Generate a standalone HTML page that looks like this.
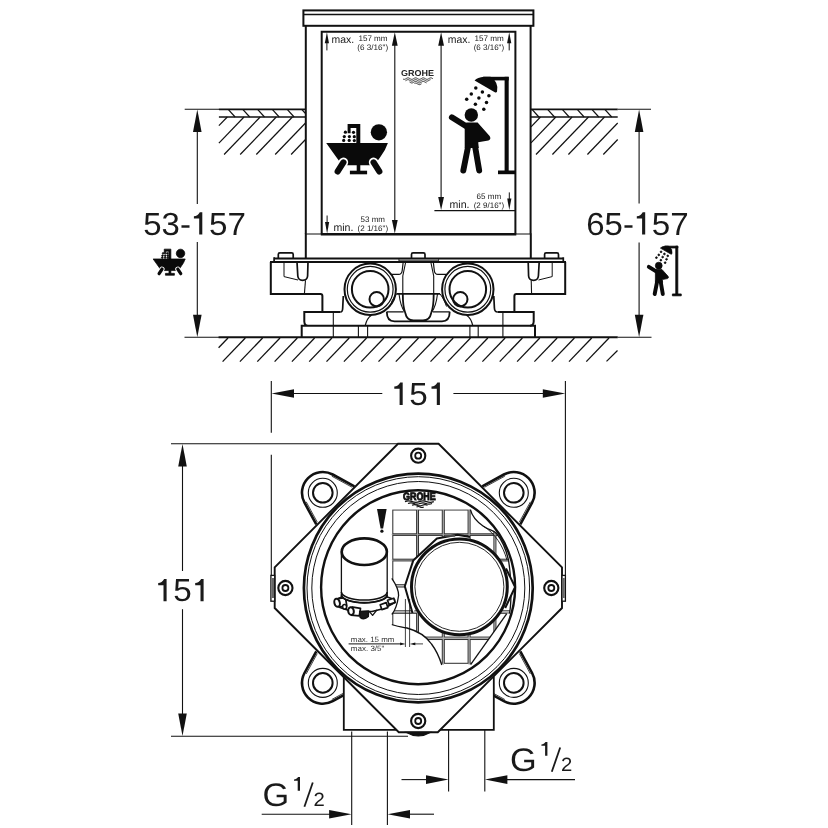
<!DOCTYPE html>
<html><head><meta charset="utf-8"><title>Dimension drawing</title>
<style>
html,body{margin:0;padding:0;background:#fff;}
body{width:828px;height:828px;overflow:hidden;font-family:"Liberation Sans",sans-serif;}
svg{display:block;filter:grayscale(1);}
svg text{font-family:"Liberation Sans",sans-serif;text-rendering:geometricPrecision;}
</style></head><body>
<svg width="828" height="828" viewBox="0 0 828 828" stroke="#111" fill="none" stroke-linecap="butt" stroke-linejoin="miter">
<rect x="0" y="0" width="828" height="828" fill="#fff" stroke="none"/>
<g id="top">
<g id="hatchL">
<line x1="184.7" y1="109.3" x2="219.0" y2="109.3" stroke-width="1.1" />
<line x1="218.9" y1="109.3" x2="306.0" y2="109.3" stroke-width="1.7" />
<line x1="218.9" y1="117.0" x2="306.0" y2="117.0" stroke-width="1.7" />
<line x1="228.2" y1="109.3" x2="235.1" y2="117.0" stroke-width="1.2" />
<line x1="242.8" y1="109.3" x2="249.7" y2="117.0" stroke-width="1.2" />
<line x1="257.6" y1="109.3" x2="264.5" y2="117.0" stroke-width="1.2" />
<line x1="272.3" y1="109.3" x2="279.2" y2="117.0" stroke-width="1.2" />
<line x1="287.2" y1="109.3" x2="294.1" y2="117.0" stroke-width="1.2" />
<line x1="301.7" y1="109.3" x2="305.5" y2="113.5" stroke-width="1.2" />
<line x1="227.3" y1="117.0" x2="218.9" y2="125.7" stroke-width="1.2" />
<line x1="244.0" y1="117.0" x2="218.9" y2="143.1" stroke-width="1.2" />
<line x1="260.2" y1="117.0" x2="224.1" y2="154.5" stroke-width="1.2" />
<line x1="276.3" y1="117.0" x2="240.2" y2="154.5" stroke-width="1.2" />
<line x1="292.4" y1="117.0" x2="256.3" y2="154.5" stroke-width="1.2" />
<line x1="305.5" y1="123.0" x2="275.2" y2="154.5" stroke-width="1.2" />
<line x1="305.5" y1="139.5" x2="291.1" y2="154.5" stroke-width="1.2" />
</g>
<g id="hatchR">
<line x1="617.7" y1="109.3" x2="651.0" y2="109.3" stroke-width="1.1" />
<line x1="530.5" y1="109.3" x2="617.7" y2="109.3" stroke-width="1.7" />
<line x1="530.5" y1="117.0" x2="617.7" y2="117.0" stroke-width="1.7" />
<line x1="532.0" y1="109.3" x2="538.9" y2="117.0" stroke-width="1.2" />
<line x1="547.6" y1="109.3" x2="554.5" y2="117.0" stroke-width="1.2" />
<line x1="562.3" y1="109.3" x2="569.2" y2="117.0" stroke-width="1.2" />
<line x1="577.2" y1="109.3" x2="584.1" y2="117.0" stroke-width="1.2" />
<line x1="591.9" y1="109.3" x2="598.8" y2="117.0" stroke-width="1.2" />
<line x1="604.8" y1="109.3" x2="611.7" y2="117.0" stroke-width="1.2" />
<line x1="540.5" y1="117.0" x2="531.0" y2="126.9" stroke-width="1.2" />
<line x1="555.8" y1="117.0" x2="531.0" y2="142.8" stroke-width="1.2" />
<line x1="572.1" y1="117.0" x2="536.0" y2="154.5" stroke-width="1.2" />
<line x1="588.5" y1="117.0" x2="552.4" y2="154.5" stroke-width="1.2" />
<line x1="604.5" y1="117.0" x2="568.4" y2="154.5" stroke-width="1.2" />
<line x1="617.7" y1="123.0" x2="587.4" y2="154.5" stroke-width="1.2" />
<line x1="617.7" y1="139.5" x2="603.3" y2="154.5" stroke-width="1.2" />
</g>
<g id="floor">
<line x1="184.5" y1="337.3" x2="219.0" y2="337.3" stroke-width="1.1" />
<line x1="617.5" y1="337.3" x2="651.5" y2="337.3" stroke-width="1.1" />
<line x1="218.6" y1="337.3" x2="617.7" y2="337.3" stroke-width="1.9" />
<line x1="228.0" y1="338.0" x2="218.6" y2="347.8" stroke-width="1.3" />
<line x1="245.3" y1="338.0" x2="222.6" y2="361.6" stroke-width="1.3" />
<line x1="262.6" y1="338.0" x2="239.9" y2="361.6" stroke-width="1.3" />
<line x1="280.0" y1="338.0" x2="257.3" y2="361.6" stroke-width="1.3" />
<line x1="297.3" y1="338.0" x2="274.6" y2="361.6" stroke-width="1.3" />
<line x1="314.6" y1="338.0" x2="291.9" y2="361.6" stroke-width="1.3" />
<line x1="331.9" y1="338.0" x2="309.2" y2="361.6" stroke-width="1.3" />
<line x1="349.2" y1="338.0" x2="326.5" y2="361.6" stroke-width="1.3" />
<line x1="366.6" y1="338.0" x2="343.9" y2="361.6" stroke-width="1.3" />
<line x1="383.9" y1="338.0" x2="361.2" y2="361.6" stroke-width="1.3" />
<line x1="401.2" y1="338.0" x2="378.5" y2="361.6" stroke-width="1.3" />
<line x1="418.5" y1="338.0" x2="395.8" y2="361.6" stroke-width="1.3" />
<line x1="435.8" y1="338.0" x2="413.1" y2="361.6" stroke-width="1.3" />
<line x1="453.2" y1="338.0" x2="430.5" y2="361.6" stroke-width="1.3" />
<line x1="470.5" y1="338.0" x2="447.8" y2="361.6" stroke-width="1.3" />
<line x1="487.8" y1="338.0" x2="465.1" y2="361.6" stroke-width="1.3" />
<line x1="505.1" y1="338.0" x2="482.4" y2="361.6" stroke-width="1.3" />
<line x1="522.4" y1="338.0" x2="499.7" y2="361.6" stroke-width="1.3" />
<line x1="539.8" y1="338.0" x2="517.1" y2="361.6" stroke-width="1.3" />
<line x1="557.1" y1="338.0" x2="534.4" y2="361.6" stroke-width="1.3" />
<line x1="574.4" y1="338.0" x2="551.7" y2="361.6" stroke-width="1.3" />
<line x1="591.7" y1="338.0" x2="569.0" y2="361.6" stroke-width="1.3" />
<line x1="609.0" y1="338.0" x2="586.3" y2="361.6" stroke-width="1.3" />
<line x1="617.5" y1="350.5" x2="606.5" y2="361.4" stroke-width="1.25" />
</g>
<g id="dims-top">
<line x1="197.3" y1="125.0" x2="197.3" y2="204.0" stroke-width="1.1" />
<line x1="197.3" y1="242.0" x2="197.3" y2="322.0" stroke-width="1.1" />
<polygon points="197.3,109.6 193.0,132.1 201.6,132.1" fill="#111" stroke="none"/>
<polygon points="197.3,337.2 193.0,314.7 201.6,314.7" fill="#111" stroke="none"/>
<line x1="639.1" y1="125.0" x2="639.1" y2="203.5" stroke-width="1.1" />
<line x1="639.1" y1="242.5" x2="639.1" y2="322.0" stroke-width="1.1" />
<polygon points="639.1,109.6 634.8,132.1 643.4,132.1" fill="#111" stroke="none"/>
<polygon points="639.1,337.2 634.8,314.7 643.4,314.7" fill="#111" stroke="none"/>
<text x="143.3" y="234.6" font-size="32" text-anchor="start" textLength="47.6" lengthAdjust="spacingAndGlyphs"  fill="#1a1a1a" stroke="none">53-</text>
<path d="M199.20,212.20 L202.30,212.20 L202.30,234.60 L199.20,234.60 L199.20,218.50 L193.90,218.50 L193.90,216.30 C196.50,216.10 198.30,214.80 199.80,212.20 Z" fill="#1a1a1a" stroke="none"/>
<text x="209.1" y="234.6" font-size="32" text-anchor="start" textLength="36.9" lengthAdjust="spacingAndGlyphs"  fill="#1a1a1a" stroke="none">57</text>
<text x="586.3" y="234.6" font-size="32" text-anchor="start" textLength="47.6" lengthAdjust="spacingAndGlyphs"  fill="#1a1a1a" stroke="none">65-</text>
<path d="M642.10,212.20 L645.20,212.20 L645.20,234.60 L642.10,234.60 L642.10,218.50 L636.80,218.50 L636.80,216.30 C639.40,216.10 641.20,214.80 642.70,212.20 Z" fill="#1a1a1a" stroke="none"/>
<text x="651.8" y="234.6" font-size="32" text-anchor="start" textLength="36.9" lengthAdjust="spacingAndGlyphs"  fill="#1a1a1a" stroke="none">57</text>
</g>
<g id="box">
<rect x="303.4" y="10.4" width="230.0" height="15.4" stroke-width="2.0" fill="none" />
<line x1="303.4" y1="14.4" x2="533.4" y2="14.4" stroke-width="1.5" />
<line x1="305.8" y1="25.6" x2="305.8" y2="234.0" stroke-width="2.0" />
<line x1="530.6" y1="25.6" x2="530.6" y2="234.0" stroke-width="2.0" />
<path d="M321.7,234 L321.7,31.7 L515.4,31.7 L515.4,234" stroke-width="2.0" fill="none" />
<line x1="306.0" y1="234.0" x2="321.7" y2="234.0" stroke-width="1.3" stroke="#444"/>
<line x1="515.4" y1="234.0" x2="530.5" y2="234.0" stroke-width="1.3" stroke="#444"/>
<line x1="320.8" y1="234.2" x2="516.3" y2="234.2" stroke-width="2.4" />
<path d="M305.8,233.4 L305.8,258 M530.8,233.4 L530.8,258" stroke-width="2.0" fill="none" />
<line x1="394.8" y1="40.0" x2="394.8" y2="222.0" stroke-width="1.1" />
<polygon points="394.8,32.2 391.9,45.7 397.7,45.7" fill="#111" stroke="none"/>
<polygon points="394.8,233.4 391.9,219.9 397.7,219.9" fill="#111" stroke="none"/>
<line x1="441.1" y1="40.0" x2="441.1" y2="200.0" stroke-width="1.1" />
<polygon points="441.1,32.2 438.2,45.7 444.0,45.7" fill="#111" stroke="none"/>
<polygon points="441.1,210.0 438.2,197.0 444.0,197.0" fill="#111" stroke="none"/>
<line x1="434.4" y1="210.6" x2="515.4" y2="210.6" stroke-width="1.2" />
<line x1="326.9" y1="40.0" x2="326.9" y2="50.4" stroke-width="1.0" />
<polygon points="326.9,32.2 324.8,43.2 329.0,43.2" fill="#111" stroke="none"/>
<line x1="509.2" y1="40.0" x2="509.2" y2="50.4" stroke-width="1.0" />
<polygon points="509.2,32.2 507.1,43.2 511.3,43.2" fill="#111" stroke="none"/>
<line x1="327.1" y1="215.5" x2="327.1" y2="226.0" stroke-width="1.0" />
<polygon points="327.1,233.4 325.0,221.9 329.2,221.9" fill="#111" stroke="none"/>
<line x1="509.3" y1="192.4" x2="509.3" y2="202.0" stroke-width="1.0" />
<polygon points="509.3,210.0 507.2,198.5 511.4,198.5" fill="#111" stroke="none"/>
<text x="331.6" y="43.2" font-size="10.6" text-anchor="start" textLength="22.6" lengthAdjust="spacingAndGlyphs"  fill="#1a1a1a" stroke="none">max.</text>
<text x="358.4" y="41.1" font-size="8" text-anchor="start" textLength="29.2" lengthAdjust="spacingAndGlyphs"  fill="#1a1a1a" stroke="none">157 mm</text>
<text x="357.3" y="49.8" font-size="8" text-anchor="start" textLength="30.8" lengthAdjust="spacingAndGlyphs"  fill="#1a1a1a" stroke="none">(6 3/16&quot;)</text>
<text x="447.8" y="43.2" font-size="10.6" text-anchor="start" textLength="22.6" lengthAdjust="spacingAndGlyphs"  fill="#1a1a1a" stroke="none">max.</text>
<text x="474.4" y="41.1" font-size="8" text-anchor="start" textLength="29.3" lengthAdjust="spacingAndGlyphs"  fill="#1a1a1a" stroke="none">157 mm</text>
<text x="473.7" y="49.8" font-size="8" text-anchor="start" textLength="30.4" lengthAdjust="spacingAndGlyphs"  fill="#1a1a1a" stroke="none">(6 3/16&quot;)</text>
<text x="333.4" y="230.8" font-size="10.6" text-anchor="start" textLength="20.0" lengthAdjust="spacingAndGlyphs"  fill="#1a1a1a" stroke="none">min.</text>
<text x="360.6" y="222.3" font-size="8" text-anchor="start" textLength="24.4" lengthAdjust="spacingAndGlyphs"  fill="#1a1a1a" stroke="none">53 mm</text>
<text x="357.5" y="230.8" font-size="8" text-anchor="start" textLength="30.6" lengthAdjust="spacingAndGlyphs"  fill="#1a1a1a" stroke="none">(2 1/16&quot;)</text>
<text x="449.5" y="207.7" font-size="10.6" text-anchor="start" textLength="20.0" lengthAdjust="spacingAndGlyphs"  fill="#1a1a1a" stroke="none">min.</text>
<text x="476.6" y="199.1" font-size="8" text-anchor="start" textLength="24.6" lengthAdjust="spacingAndGlyphs"  fill="#1a1a1a" stroke="none">65 mm</text>
<text x="473.7" y="207.8" font-size="8" text-anchor="start" textLength="30.4" lengthAdjust="spacingAndGlyphs"  fill="#1a1a1a" stroke="none">(2 9/16&quot;)</text>
</g>
<g id="body">
<line x1="274.0" y1="258.6" x2="563.4" y2="258.6" stroke-width="2.0" />
<line x1="270.0" y1="262.1" x2="566.0" y2="262.1" stroke-width="2.0" />
<line x1="274.1" y1="257.3" x2="274.1" y2="262.5" stroke-width="1.7" />
<line x1="563.3" y1="257.3" x2="563.3" y2="262.5" stroke-width="1.7" />
<line x1="398.9" y1="260.3" x2="438.6" y2="260.3" stroke-width="0.8" />
<line x1="398.9" y1="258.0" x2="398.9" y2="262.0" stroke-width="0.8" />
<line x1="438.6" y1="258.0" x2="438.6" y2="262.0" stroke-width="0.8" />
<path d="M278.3,258 L278.3,254.4 Q278.3,252.9 279.8,252.9 L291.7,252.9 Q293.2,252.9 293.2,254.4 L293.2,258" stroke-width="1.7" fill="none" />
<path d="M544.6,258 L544.6,254.4 Q544.6,252.9 546.1,252.9 L557.0,252.9 Q558.5,252.9 558.5,254.4 L558.5,258" stroke-width="1.7" fill="none" />
<path d="M411.5,258 L411.5,254.4 Q411.5,252.9 413.0,252.9 L423.5,252.9 Q425.0,252.9 425.0,254.4 L425.0,258" stroke-width="1.7" fill="none" />
<path d="M270.8,262 L270.8,293.9 L320.4,293.9 Q322.4,293.9 322.4,296 L322.4,312 M340.5,312 L304.3,312 L304.3,321.5 Q304.5,325.7 308,325.7 M301.7,337 L301.7,325.7 L535,325.7 L535,337" stroke-width="2.0" fill="none" />
<path d="M340.5,312 Q342.6,312 342.7,308 L343.3,296" stroke-width="1.7" fill="none" />
<path d="M565.2,262 L565.2,293.9 L516.4,293.9 Q514.4,293.9 514.4,296 L514.4,312 M497.5,312 L533.7,312 L533.7,321.5 Q533.5,325.7 530,325.7" stroke-width="2.0" fill="none" />
<path d="M497.5,312 Q494.6,312 494.4,308 L493.8,296" stroke-width="1.7" fill="none" />
<path d="M284,262 L284,276.6 L298,280" stroke-width="1.0" fill="none" />
<path d="M297,262 L297.8,276 Q298.3,280.3 302.5,280.3 Q307.3,280.3 307.6,276 L308,262" stroke-width="1.7" fill="none" />
<path d="M305.5,280.3 L304.4,293.9" stroke-width="1.1" fill="none" />
<path d="M552.2,262 L552.2,276.6 L538.5,280" stroke-width="1.0" fill="none" />
<path d="M539.2,262 L538.4,276 Q537.9,280.3 533.7,280.3 Q528.9,280.3 528.6,276 L528.2,262" stroke-width="1.7" fill="none" />
<path d="M531.2,280.3 L531.6,293.9" stroke-width="1.1" fill="none" />
<line x1="333.3" y1="325.7" x2="333.3" y2="337.0" stroke-width="1.1" />
<line x1="358.4" y1="325.7" x2="358.4" y2="337.0" stroke-width="1.1" />
<line x1="367.6" y1="325.7" x2="367.6" y2="337.0" stroke-width="1.1" />
<line x1="469.9" y1="325.7" x2="469.9" y2="337.0" stroke-width="1.1" />
<line x1="478.2" y1="325.7" x2="478.2" y2="337.0" stroke-width="1.1" />
<line x1="502.9" y1="325.7" x2="502.9" y2="337.0" stroke-width="1.1" />
<line x1="333.3" y1="312.0" x2="333.3" y2="325.7" stroke-width="1.1" />
<line x1="502.9" y1="312.0" x2="502.9" y2="325.7" stroke-width="1.1" />
<circle cx="370.2" cy="289.3" r="25.7" stroke-width="2.0" fill="#fff" />
<circle cx="370.2" cy="289.3" r="22.9" stroke-width="1.2" fill="none" />
<circle cx="370.2" cy="289.3" r="18.3" stroke-width="2.0" fill="none" />
<circle cx="376.7" cy="299.2" r="7.2" stroke-width="2.0" fill="none" />
<circle cx="467.8" cy="289.3" r="25.7" stroke-width="2.0" fill="#fff" />
<circle cx="467.8" cy="289.3" r="22.9" stroke-width="1.2" fill="none" />
<circle cx="467.8" cy="289.3" r="18.3" stroke-width="2.0" fill="none" />
<circle cx="460.3" cy="299.2" r="7.2" stroke-width="2.0" fill="none" />
<path d="M371.5,315.3 Q367,318 365.2,325.7" stroke-width="1.2" fill="none" />
<path d="M466.5,315.3 Q471,318 472.8,325.7" stroke-width="1.2" fill="none" />
<path d="M405.7,262 L402.8,276 L402.8,293.7" stroke-width="1.1" fill="none" />
<path d="M430.8,262 L433.7,276 L433.7,293.7" stroke-width="1.1" fill="none" />
<path d="M390.5,274.4 L398.5,274.4 Q401.8,274.4 402.2,270.5 L403.2,262" stroke-width="1.2" fill="none" />
<path d="M446.0,274.4 L438.0,274.4 Q434.7,274.4 434.3,270.5 L433.3,262" stroke-width="1.2" fill="none" />
<line x1="396.5" y1="293.8" x2="440.0" y2="293.8" stroke-width="1.8" />
<path d="M402.8,293.8 C402.8,304 403.8,309.5 405.3,313 Q406.8,320.5 413.5,320.5 L423,320.5 Q429.7,320.5 431.2,313 C432.7,309.5 433.7,304 433.7,293.8" stroke-width="1.8" fill="none" />
<path d="M396.5,293.8 Q391.5,300 390,306.5 M440,293.8 Q445,300 446.5,306.5" stroke-width="1.0" fill="none" />
<path d="M386.8,311.8 L403.6,311.8 M432.9,311.8 L449.7,311.8" stroke-width="1.2" fill="none" />
<path d="M386.8,311.8 Q386.8,321.4 394.5,321.4 L442,321.4 Q449.7,321.4 449.7,311.8" stroke-width="1.8" fill="none" />
<path d="M399,294 Q400.5,306 404.5,311.8 M437.5,294 Q436,306 432,311.8" stroke-width="1.1" fill="none" />
</g>
<g fill="#0a0a0a" stroke="none" >
<path d="M326.2,143 L387.9,143 Q385.5,150 381,156 L374.5,165.3 L342.2,165.3 Q334,154 326.2,143 Z"/>
<line x1="343.4" y1="162.4" x2="337.7" y2="171.4" stroke="#fff" stroke-width="9.6" stroke-linecap="round"/>
<line x1="373.6" y1="162.4" x2="379.3" y2="171.4" stroke="#fff" stroke-width="9.6" stroke-linecap="round"/>
<line x1="343.4" y1="162.4" x2="337.7" y2="171.4" stroke="#0a0a0a" stroke-width="6.2" stroke-linecap="round"/>
<line x1="373.6" y1="162.4" x2="379.3" y2="171.4" stroke="#0a0a0a" stroke-width="6.2" stroke-linecap="round"/>
<rect x="356.7" y="165" width="3.6" height="6.5"/>
<rect x="349.9" y="170.7" width="17.2" height="3.6"/>
<circle cx="378.9" cy="132.3" r="8.15"/>
<path d="M347.6,124.1 L360.3,124.1 L360.3,143.2 L356.3,143.2 L356.3,128 L350.6,128 L350.6,133.2 L347.6,133.2 Z"/>
<circle cx="345.4" cy="132.2" r="1.6"/>
<circle cx="353.5" cy="132.3" r="1.6"/>
<circle cx="344.3" cy="136.6" r="1.6"/>
<circle cx="349.4" cy="136.6" r="1.6"/>
<circle cx="354.3" cy="136.7" r="1.6"/>
<circle cx="343.7" cy="140.4" r="1.6"/>
<circle cx="349.2" cy="140.4" r="1.6"/>
<circle cx="354.3" cy="140.6" r="1.6"/>
</g>
<g fill="#0a0a0a" stroke="none" >
<rect x="504.6" y="76.8" width="4.1" height="94.5"/>
<rect x="483" y="76.8" width="25.7" height="3.6"/>
<rect x="498" y="170.5" width="17.4" height="3.7"/>
<path d="M474.6,80.6 Q477.5,77.2 484,76.8 L490.5,76.8 Q499.2,82.5 497,91.8 Q496.3,93 494.8,92.2 Z"/>
<circle cx="475.8" cy="87.9" r="1.75"/>
<circle cx="482.4" cy="92.1" r="1.75"/>
<circle cx="488.9" cy="95.8" r="1.75"/>
<circle cx="471.3" cy="93.9" r="1.75"/>
<circle cx="478.9" cy="98.1" r="1.75"/>
<circle cx="486.5" cy="102.5" r="1.75"/>
<circle cx="466.7" cy="99.3" r="1.75"/>
<circle cx="475.4" cy="104.3" r="1.75"/>
<circle cx="483.8" cy="109.2" r="1.75"/>
<circle cx="471.3" cy="115" r="6.7"/>
<line x1="451.8" y1="117.2" x2="467" y2="126.8" stroke="#0a0a0a" stroke-width="5.8" stroke-linecap="round"/>
<path d="M464.7,124.5 L466.5,122.6 L477.6,122.6 L489.6,136 Q491.6,139.4 488.4,140.4 L478.2,142.3 L478.8,148 L464.7,148 Z"/>
<line x1="468.2" y1="146" x2="463.3" y2="170.6" stroke="#0a0a0a" stroke-width="5.9" stroke-linecap="round"/>
<line x1="475.0" y1="146" x2="479.2" y2="170.6" stroke="#0a0a0a" stroke-width="5.9" stroke-linecap="round"/>
</g>
<g fill="#0a0a0a"  transform="translate(-16.5,184.6) scale(0.52)" stroke="#0a0a0a" stroke-width="1.4" stroke-linejoin="round">
<path d="M326.2,143 L387.9,143 Q385.5,150 381,156 L374.5,165.3 L342.2,165.3 Q334,154 326.2,143 Z"/>
<line x1="343.4" y1="162.4" x2="337.7" y2="171.4" stroke="#fff" stroke-width="9.6" stroke-linecap="round"/>
<line x1="373.6" y1="162.4" x2="379.3" y2="171.4" stroke="#fff" stroke-width="9.6" stroke-linecap="round"/>
<line x1="343.4" y1="162.4" x2="337.7" y2="171.4" stroke="#0a0a0a" stroke-width="6.2" stroke-linecap="round"/>
<line x1="373.6" y1="162.4" x2="379.3" y2="171.4" stroke="#0a0a0a" stroke-width="6.2" stroke-linecap="round"/>
<rect x="356.7" y="165" width="3.6" height="6.5"/>
<rect x="349.9" y="170.7" width="17.2" height="3.6"/>
<circle cx="378.9" cy="132.3" r="8.15"/>
<path d="M347.6,124.1 L360.3,124.1 L360.3,143.2 L356.3,143.2 L356.3,128 L350.6,128 L350.6,133.2 L347.6,133.2 Z"/>
<circle cx="345.4" cy="132.2" r="1.6"/>
<circle cx="353.5" cy="132.3" r="1.6"/>
<circle cx="344.3" cy="136.6" r="1.6"/>
<circle cx="349.4" cy="136.6" r="1.6"/>
<circle cx="354.3" cy="136.7" r="1.6"/>
<circle cx="343.7" cy="140.4" r="1.6"/>
<circle cx="349.2" cy="140.4" r="1.6"/>
<circle cx="354.3" cy="140.6" r="1.6"/>
</g>
<g fill="#0a0a0a"  transform="translate(418.4,207.0) scale(0.51)" stroke="#0a0a0a" stroke-width="1.5" stroke-linejoin="round">
<rect x="504.6" y="76.8" width="4.1" height="94.5"/>
<rect x="483" y="76.8" width="25.7" height="3.6"/>
<rect x="498" y="170.5" width="17.4" height="3.7"/>
<path d="M474.6,80.6 Q477.5,77.2 484,76.8 L490.5,76.8 Q499.2,82.5 497,91.8 Q496.3,93 494.8,92.2 Z"/>
<circle cx="475.8" cy="87.9" r="1.75"/>
<circle cx="482.4" cy="92.1" r="1.75"/>
<circle cx="488.9" cy="95.8" r="1.75"/>
<circle cx="471.3" cy="93.9" r="1.75"/>
<circle cx="478.9" cy="98.1" r="1.75"/>
<circle cx="486.5" cy="102.5" r="1.75"/>
<circle cx="466.7" cy="99.3" r="1.75"/>
<circle cx="475.4" cy="104.3" r="1.75"/>
<circle cx="483.8" cy="109.2" r="1.75"/>
<circle cx="471.3" cy="115" r="6.7"/>
<line x1="451.8" y1="117.2" x2="467" y2="126.8" stroke="#0a0a0a" stroke-width="7.6" stroke-linecap="round"/>
<path d="M464.7,124.5 L466.5,122.6 L477.6,122.6 L489.6,136 Q491.6,139.4 488.4,140.4 L478.2,142.3 L478.8,148 L464.7,148 Z"/>
<line x1="468.2" y1="146" x2="463.3" y2="170.6" stroke="#0a0a0a" stroke-width="7.7" stroke-linecap="round"/>
<line x1="475.0" y1="146" x2="479.2" y2="170.6" stroke="#0a0a0a" stroke-width="7.7" stroke-linecap="round"/>
</g>
<g >
<text x="401.0" y="76.2" font-size="8.6" text-anchor="start" textLength="33.0" lengthAdjust="spacingAndGlyphs" font-weight="bold" fill="#222" stroke="none">GROHE</text>
<polyline points="403.00,79.01 403.50,79.23 404.00,79.34 404.50,79.33 405.00,79.19 405.50,78.96 406.00,78.66 406.50,78.36 407.00,78.09 407.50,77.91 408.00,77.85 408.50,77.91 409.00,78.09 409.50,78.36 410.00,78.66 410.50,78.96 411.00,79.19 411.50,79.33 412.00,79.34 412.50,79.23 413.00,79.01 413.50,78.72 414.00,78.42 414.50,78.14 415.00,77.94 415.50,77.85 416.00,77.89 416.50,78.05 417.00,78.30 417.50,78.60 418.00,78.90 418.50,79.15 419.00,79.31 419.50,79.35 420.00,79.26 420.50,79.06 421.00,78.78 421.50,78.48 422.00,78.19 422.50,77.97 423.00,77.86 423.50,77.87 424.00,78.01 424.50,78.24 425.00,78.54 425.50,78.84 426.00,79.11 426.50,79.29 427.00,79.35 427.50,79.29 428.00,79.11 428.50,78.84 429.00,78.54 429.50,78.24 430.00,78.01 430.50,77.87 431.00,77.86 431.50,77.97 432.00,78.19 432.50,78.48 433.00,78.78" stroke="#222" stroke-width="0.9" fill="none"/>
<polyline points="405.50,80.76 406.00,80.46 406.50,80.16 407.00,79.89 407.50,79.71 408.00,79.65 408.50,79.71 409.00,79.89 409.50,80.16 410.00,80.46 410.50,80.76 411.00,80.99 411.50,81.13 412.00,81.14 412.50,81.03 413.00,80.81 413.50,80.52 414.00,80.22 414.50,79.94 415.00,79.74 415.50,79.65 416.00,79.69 416.50,79.85 417.00,80.10 417.50,80.40 418.00,80.70 418.50,80.95 419.00,81.11 419.50,81.15 420.00,81.06 420.50,80.86 421.00,80.58 421.50,80.28 422.00,79.99 422.50,79.77 423.00,79.66 423.50,79.67 424.00,79.81 424.50,80.04 425.00,80.34 425.50,80.64 426.00,80.91 426.50,81.09 427.00,81.15 427.50,81.09 428.00,80.91 428.50,80.64 429.00,80.34 429.50,80.04 430.00,79.81 430.50,79.67" stroke="#222" stroke-width="0.9" fill="none"/>
<polyline points="409.50,81.96 410.00,82.26 410.50,82.56 411.00,82.79 411.50,82.93 412.00,82.94 412.50,82.83 413.00,82.61 413.50,82.32 414.00,82.02 414.50,81.74 415.00,81.54 415.50,81.45 416.00,81.49 416.50,81.65 417.00,81.90 417.50,82.20 418.00,82.50 418.50,82.75 419.00,82.91 419.50,82.95 420.00,82.86 420.50,82.66 421.00,82.38 421.50,82.08 422.00,81.79 422.50,81.57 423.00,81.46 423.50,81.47 424.00,81.61 424.50,81.84 425.00,82.14 425.50,82.44 426.00,82.71 426.50,82.89" stroke="#222" stroke-width="0.9" fill="none"/>
<polyline points="414.50,83.44 415.00,83.24 415.50,83.15 416.00,83.19 416.50,83.35 417.00,83.60 417.50,83.90 418.00,84.20 418.50,84.45 419.00,84.61 419.50,84.65 420.00,84.56 420.50,84.36 421.00,84.08 421.50,83.78" stroke="#222" stroke-width="0.9" fill="none"/>
</g>
</g>
<g id="bottom">
<g id="dims-bot">
<line x1="271.3" y1="381.0" x2="271.3" y2="432.8" stroke-width="1.1" />
<line x1="271.3" y1="454.8" x2="271.3" y2="575.5" stroke-width="1.1" />
<line x1="565.4" y1="381.0" x2="565.4" y2="575.5" stroke-width="1.1" />
<line x1="293.0" y1="393.5" x2="382.3" y2="393.5" stroke-width="1.1" />
<line x1="453.4" y1="393.5" x2="543.0" y2="393.5" stroke-width="1.1" />
<polygon points="271.5,393.5 294.0,389.2 294.0,397.8" fill="#111" stroke="none"/>
<polygon points="565.3,393.5 542.8,389.2 542.8,397.8" fill="#111" stroke="none"/>
<path d="M399.60,382.50 L402.70,382.50 L402.70,404.90 L399.60,404.90 L399.60,388.80 L394.30,388.80 L394.30,386.60 C396.90,386.40 398.70,385.10 400.20,382.50 Z" fill="#1a1a1a" stroke="none"/>
<text x="409.2" y="404.9" font-size="32" text-anchor="start" textLength="18.5" lengthAdjust="spacingAndGlyphs"  fill="#1a1a1a" stroke="none">5</text>
<path d="M436.80,382.50 L439.90,382.50 L439.90,404.90 L436.80,404.90 L436.80,388.80 L431.50,388.80 L431.50,386.60 C434.10,386.40 435.90,385.10 437.40,382.50 Z" fill="#1a1a1a" stroke="none"/>
<line x1="171.0" y1="443.8" x2="398.0" y2="443.8" stroke-width="1.1" />
<line x1="171.0" y1="736.2" x2="408.0" y2="736.2" stroke-width="1.1" />
<line x1="182.5" y1="459.0" x2="182.5" y2="571.0" stroke-width="1.1" />
<line x1="182.5" y1="609.2" x2="182.5" y2="721.0" stroke-width="1.1" />
<polygon points="182.5,444.0 178.2,466.5 186.8,466.5" fill="#111" stroke="none"/>
<polygon points="182.5,736.0 178.2,713.5 186.8,713.5" fill="#111" stroke="none"/>
<path d="M163.50,578.90 L166.60,578.90 L166.60,601.30 L163.50,601.30 L163.50,585.20 L158.20,585.20 L158.20,583.00 C160.80,582.80 162.60,581.50 164.10,578.90 Z" fill="#1a1a1a" stroke="none"/>
<text x="173.3" y="601.3" font-size="32" text-anchor="start" textLength="18.5" lengthAdjust="spacingAndGlyphs"  fill="#1a1a1a" stroke="none">5</text>
<path d="M200.50,578.90 L203.60,578.90 L203.60,601.30 L200.50,601.30 L200.50,585.20 L195.20,585.20 L195.20,583.00 C197.80,582.80 199.60,581.50 201.10,578.90 Z" fill="#1a1a1a" stroke="none"/>
<line x1="351.7" y1="731.5" x2="351.7" y2="825.0" stroke-width="1.1" />
<line x1="387.4" y1="731.5" x2="387.4" y2="825.0" stroke-width="1.1" />
<line x1="261.7" y1="814.2" x2="330.0" y2="814.2" stroke-width="1.1" />
<polygon points="351.6,814.2 329.1,809.9 329.1,818.5" fill="#111" stroke="none"/>
<line x1="409.0" y1="814.2" x2="434.0" y2="814.2" stroke-width="1.1" />
<polygon points="387.5,814.2 410.0,809.9 410.0,818.5" fill="#111" stroke="none"/>
<line x1="448.6" y1="730.0" x2="448.6" y2="791.5" stroke-width="1.1" />
<line x1="484.8" y1="730.0" x2="484.8" y2="791.5" stroke-width="1.1" />
<line x1="401.5" y1="779.6" x2="427.0" y2="779.6" stroke-width="1.1" />
<polygon points="448.5,779.6 426.0,775.3 426.0,783.9" fill="#111" stroke="none"/>
<line x1="506.0" y1="779.6" x2="575.0" y2="779.6" stroke-width="1.1" />
<polygon points="484.9,779.6 507.4,775.3 507.4,783.9" fill="#111" stroke="none"/>
<text x="262.5" y="806.3" font-size="32.7" text-anchor="start" textLength="26.7" lengthAdjust="spacingAndGlyphs"  fill="#1a1a1a" stroke="none">G</text>
<path d="M297.70,776.90 L300.00,776.90 L300.00,790.70 L297.70,790.70 L297.70,780.78 L294.00,780.78 L294.00,779.43 C295.60,779.30 297.15,778.50 298.07,776.90 Z" fill="#1a1a1a" stroke="none"/>
<line x1="304.4" y1="806.8" x2="312.8" y2="782.5" stroke-width="1.8" stroke="#1a1a1a"/>
<text x="313.5" y="806.3" font-size="19.3" text-anchor="start" textLength="11.3" lengthAdjust="spacingAndGlyphs"  fill="#1a1a1a" stroke="none">2</text>
<text x="509.9" y="771.3" font-size="32.7" text-anchor="start" textLength="26.7" lengthAdjust="spacingAndGlyphs"  fill="#1a1a1a" stroke="none">G</text>
<path d="M545.10,741.90 L547.40,741.90 L547.40,755.70 L545.10,755.70 L545.10,745.78 L541.40,745.78 L541.40,744.43 C543.00,744.30 544.55,743.50 545.47,741.90 Z" fill="#1a1a1a" stroke="none"/>
<line x1="551.8" y1="771.8" x2="560.2" y2="747.5" stroke-width="1.8" stroke="#1a1a1a"/>
<text x="560.9" y="771.3" font-size="19.3" text-anchor="start" textLength="11.3" lengthAdjust="spacingAndGlyphs"  fill="#1a1a1a" stroke="none">2</text>
</g>
<g id="part">
<path d="M354.4,486.3 L332.7,474.5 A20.8,20.8 0 0 0 304.5,502.7 L316.3,524.4" stroke-width="2.6" fill="#fff" stroke-linejoin="round"/>
<line x1="352.2" y1="487.3" x2="331.8" y2="476.2" stroke-width="0.8" />
<line x1="317.3" y1="522.2" x2="306.2" y2="501.8" stroke-width="0.8" />
<circle cx="322.8" cy="492.8" r="14.5" stroke-width="1.1" fill="none" />
<circle cx="322.8" cy="492.8" r="9.8" stroke-width="2.0" fill="none" />
<path d="M482.2,486.3 L503.9,474.5 A20.8,20.8 0 0 1 532.1,502.7 L520.3,524.4" stroke-width="2.6" fill="#fff" stroke-linejoin="round"/>
<line x1="484.4" y1="487.3" x2="504.8" y2="476.2" stroke-width="0.8" />
<line x1="519.3" y1="522.2" x2="530.4" y2="501.8" stroke-width="0.8" />
<circle cx="513.8" cy="492.8" r="14.5" stroke-width="1.1" fill="none" />
<circle cx="513.8" cy="492.8" r="9.8" stroke-width="2.0" fill="none" />
<path d="M354.4,689.4 L332.7,701.2 A20.8,20.8 0 0 1 304.5,673.0 L316.3,651.3" stroke-width="2.6" fill="#fff" stroke-linejoin="round"/>
<line x1="352.2" y1="688.4" x2="331.8" y2="699.5" stroke-width="0.8" />
<line x1="317.3" y1="653.5" x2="306.2" y2="673.9" stroke-width="0.8" />
<circle cx="322.8" cy="682.9" r="14.5" stroke-width="1.1" fill="none" />
<circle cx="322.8" cy="682.9" r="9.8" stroke-width="2.0" fill="none" />
<path d="M482.2,689.4 L503.9,701.2 A20.8,20.8 0 0 0 532.1,673.0 L520.3,651.3" stroke-width="2.6" fill="#fff" stroke-linejoin="round"/>
<line x1="484.4" y1="688.4" x2="504.8" y2="699.5" stroke-width="0.8" />
<line x1="519.3" y1="653.5" x2="530.4" y2="673.9" stroke-width="0.8" />
<circle cx="513.8" cy="682.9" r="14.5" stroke-width="1.1" fill="none" />
<circle cx="513.8" cy="682.9" r="9.8" stroke-width="2.0" fill="none" />
<path d="M343.8,670 L343.8,729.8 L396,729.8 L396,670 Z" stroke-width="0" fill="#fff" stroke="none"/>
<path d="M493.8,670 L493.8,729.8 L440.5,729.8 L440.5,670 Z" stroke-width="0" fill="#fff" stroke="none"/>
<path d="M343.8,676.5 L343.8,729.8 L398,729.8 M493.8,676.5 L493.8,729.8 L439,729.8" stroke-width="1.8" fill="none" />
<path d="M398,443.8 L438.6,443.8 L562,567.4 L562,608 L437.8,732.2 L398.8,732.2 L274.7,608 L274.7,567.4 Z" stroke-width="1.9" fill="#fff" />
<path d="M406.5,732.4 Q418.3,739.4 430.2,732.4 Z" stroke-width="1.2" fill="#111" />
<rect x="270.9" y="575.4" width="3.8" height="25.8" stroke-width="1.3" fill="#fff" />
<rect x="271.8" y="578.0" width="2.2" height="20.0" stroke-width="0" fill="#666" stroke="none"/>
<rect x="562.0" y="575.4" width="3.4" height="25.8" stroke-width="1.3" fill="#fff" />
<rect x="562.8" y="578.0" width="2.0" height="20.0" stroke-width="0" fill="#666" stroke="none"/>
<circle cx="418.2" cy="455.7" r="7.1" stroke-width="2.1" fill="none" />
<circle cx="418.2" cy="455.7" r="3.0" stroke-width="1.8" fill="none" />
<circle cx="418.2" cy="721.0" r="7.1" stroke-width="2.1" fill="none" />
<circle cx="418.2" cy="721.0" r="3.0" stroke-width="1.8" fill="none" />
<circle cx="285.4" cy="588.0" r="7.1" stroke-width="2.1" fill="none" />
<circle cx="285.4" cy="588.0" r="3.0" stroke-width="1.8" fill="none" />
<circle cx="551.3" cy="588.0" r="7.1" stroke-width="2.1" fill="none" />
<circle cx="551.3" cy="588.0" r="3.0" stroke-width="1.8" fill="none" />
<circle cx="418.3" cy="588.0" r="114.4" stroke-width="2.7" fill="#fff" />
<circle cx="418.3" cy="588.0" r="111.3" stroke-width="1.0" fill="none" />
<circle cx="418.3" cy="588.0" r="106.5" stroke-width="1.0" fill="none" />
<circle cx="418.1" cy="587.2" r="97.0" stroke-width="2.4" fill="none" />
</g>
<g id="inner">
<clipPath id="gclip"><path d="M391.6,509.2 L470.4,509.2 C472,516 476,521 483,526 C489,530 493,530.5 496.2,533 C502,540 506,549 508.5,560 C511,575 512,600 509.5,613.6 L506.8,613.6 L470.6,665 L441.8,665 C439,656 436,650 431.5,644 C426,636 418,631 407,628 C400,626.5 395,626 391.6,624.5 L391.6,614.5 C395.5,610 397.6,603 398.6,595.5 C398.8,590 396,584.5 391.6,578.3 Z"/></clipPath>
<g clip-path="url(#gclip)">
<line x1="417.5" y1="505.0" x2="417.5" y2="670.0" stroke-width="1.0" stroke="#b0b0b0"/>
<line x1="443.3" y1="505.0" x2="443.3" y2="670.0" stroke-width="1.0" stroke="#b0b0b0"/>
<line x1="469.1" y1="505.0" x2="469.1" y2="670.0" stroke-width="1.0" stroke="#b0b0b0"/>
<line x1="494.9" y1="505.0" x2="494.9" y2="670.0" stroke-width="1.0" stroke="#b0b0b0"/>
<line x1="388.0" y1="534.4" x2="520.0" y2="534.4" stroke-width="1.0" stroke="#b0b0b0"/>
<line x1="388.0" y1="559.9" x2="520.0" y2="559.9" stroke-width="1.0" stroke="#b0b0b0"/>
<line x1="388.0" y1="586.0" x2="520.0" y2="586.0" stroke-width="1.0" stroke="#b0b0b0"/>
<line x1="388.0" y1="612.3" x2="520.0" y2="612.3" stroke-width="1.0" stroke="#b0b0b0"/>
<line x1="388.0" y1="638.5" x2="520.0" y2="638.5" stroke-width="1.0" stroke="#b0b0b0"/>
<rect x="392.8" y="510.0" width="23.8" height="23.8" stroke-width="1.05" fill="none" stroke="#333"/>
<rect x="392.8" y="535.4" width="23.8" height="23.8" stroke-width="1.05" fill="none" stroke="#333"/>
<rect x="392.8" y="560.9" width="23.8" height="23.8" stroke-width="1.05" fill="none" stroke="#333"/>
<rect x="392.8" y="587.0" width="23.8" height="23.8" stroke-width="1.05" fill="none" stroke="#333"/>
<rect x="392.8" y="613.3" width="23.8" height="23.8" stroke-width="1.05" fill="none" stroke="#333"/>
<rect x="392.8" y="639.5" width="23.8" height="23.8" stroke-width="1.05" fill="none" stroke="#333"/>
<rect x="418.5" y="510.0" width="23.8" height="23.8" stroke-width="1.05" fill="none" stroke="#333"/>
<rect x="418.5" y="535.4" width="23.8" height="23.8" stroke-width="1.05" fill="none" stroke="#333"/>
<rect x="418.5" y="560.9" width="23.8" height="23.8" stroke-width="1.05" fill="none" stroke="#333"/>
<rect x="418.5" y="587.0" width="23.8" height="23.8" stroke-width="1.05" fill="none" stroke="#333"/>
<rect x="418.5" y="613.3" width="23.8" height="23.8" stroke-width="1.05" fill="none" stroke="#333"/>
<rect x="418.5" y="639.5" width="23.8" height="23.8" stroke-width="1.05" fill="none" stroke="#333"/>
<rect x="444.3" y="510.0" width="23.8" height="23.8" stroke-width="1.05" fill="none" stroke="#333"/>
<rect x="444.3" y="535.4" width="23.8" height="23.8" stroke-width="1.05" fill="none" stroke="#333"/>
<rect x="444.3" y="560.9" width="23.8" height="23.8" stroke-width="1.05" fill="none" stroke="#333"/>
<rect x="444.3" y="587.0" width="23.8" height="23.8" stroke-width="1.05" fill="none" stroke="#333"/>
<rect x="444.3" y="613.3" width="23.8" height="23.8" stroke-width="1.05" fill="none" stroke="#333"/>
<rect x="444.3" y="639.5" width="23.8" height="23.8" stroke-width="1.05" fill="none" stroke="#333"/>
<rect x="470.1" y="510.0" width="23.8" height="23.8" stroke-width="1.05" fill="none" stroke="#333"/>
<rect x="470.1" y="535.4" width="23.8" height="23.8" stroke-width="1.05" fill="none" stroke="#333"/>
<rect x="470.1" y="560.9" width="23.8" height="23.8" stroke-width="1.05" fill="none" stroke="#333"/>
<rect x="470.1" y="587.0" width="23.8" height="23.8" stroke-width="1.05" fill="none" stroke="#333"/>
<rect x="470.1" y="613.3" width="23.8" height="23.8" stroke-width="1.05" fill="none" stroke="#333"/>
<rect x="470.1" y="639.5" width="23.8" height="23.8" stroke-width="1.05" fill="none" stroke="#333"/>
<rect x="495.9" y="510.0" width="23.8" height="23.8" stroke-width="1.05" fill="none" stroke="#333"/>
<rect x="495.9" y="535.4" width="23.8" height="23.8" stroke-width="1.05" fill="none" stroke="#333"/>
<rect x="495.9" y="560.9" width="23.8" height="23.8" stroke-width="1.05" fill="none" stroke="#333"/>
<rect x="495.9" y="587.0" width="23.8" height="23.8" stroke-width="1.05" fill="none" stroke="#333"/>
<rect x="495.9" y="613.3" width="23.8" height="23.8" stroke-width="1.05" fill="none" stroke="#333"/>
<rect x="495.9" y="639.5" width="23.8" height="23.8" stroke-width="1.05" fill="none" stroke="#333"/>
</g>
<path d="M470.4,509.6 C472,516 476,521 483,526 C489,530 493,530.5 496.2,533 C502,540 506,549 508.5,560 C511,575 512,600 509.5,613.6" stroke-width="1.3" fill="none" />
<path d="M506.8,613.6 L470.6,664.6" stroke-width="1.3" fill="none" />
<path d="M441.8,665 C439,656 436,650 431.5,644 C426,636 418,631 407,628 C400,626.5 395,626 391.8,624.5" stroke-width="1.3" fill="none" />
<path d="M391.8,614.5 C395.5,610 397.6,603 398.6,595.5 C398.8,590 396,584.5 391.8,578.3" stroke-width="1.3" fill="none" />
<path d="M483,526 C495,533 503,546 507,560" stroke-width="0.9" fill="none" />
<circle cx="459.4" cy="586.8" r="49.0" stroke-width="0" fill="#fff" stroke="none"/>
<path d="M505.2,608 L515.1,587 L506.0,568.5" stroke-width="2.0" fill="#fff" stroke-linejoin="round"/>
<path d="M412.5,613 L404.8,586.2 L413.2,560.6 L436.9,538.6 L457.5,534.8 L470,537" stroke-width="2.0" fill="#fff" stroke-linejoin="round"/>
<circle cx="459.4" cy="586.8" r="47.9" stroke-width="3.0" fill="#fff" />
<circle cx="459.4" cy="586.8" r="44.5" stroke-width="0.9" fill="none" />
<line x1="444.5" y1="535.9" x2="455.0" y2="535.9" stroke-width="1.6" stroke="#555"/>
<g id="cart" stroke-linejoin="round">
<path d="M336,600 L341.4,597 L387.2,597 L394.5,599.5 L394.8,602.5 L384,608.5 L372,611.5 L352,611.5 L340,607.5 Z" stroke-width="1.6" fill="#fff" />
<path d="M337.5,598.6 L345.5,597.6 L346.8,606 L338.2,607" stroke-width="1.7" fill="#fff" />
<ellipse cx="337.1" cy="602.8" rx="2.7" ry="4.1" transform="rotate(-14 337.1 602.8)" stroke-width="2.0" fill="#fff"/>
<ellipse cx="344.6" cy="606.8" rx="2.0" ry="2.3" transform="rotate(-10 344.6 606.8)" stroke-width="1.6" fill="#fff"/>
<path d="M351.5,606.9 L360.5,608.4 L359.3,615.8 L351,615.1" stroke-width="1.7" fill="#fff" />
<ellipse cx="351.0" cy="611.1" rx="2.8" ry="3.9" transform="rotate(-10 351.0 611.1)" stroke-width="2.0" fill="#fff"/>
<path d="M359.6,611.6 L368.6,611 L368.3,616.6 Q364,620.6 360.2,617.4 Z" stroke-width="1.4" fill="#1a1a1a" />
<path d="M380.2,604.8 L386.2,602.6 L387.8,607.6 L381.8,609.6 Z" stroke-width="1.7" fill="#fff" />
<path d="M387.5,600.2 L393.8,598.2 L395.2,602.4 L389,604.6 Z" stroke-width="1.7" fill="#fff" />
<path d="M369,611.2 L372.6,615.4 L377,609.8" stroke-width="1.3" fill="none" />
<path d="M341.4,551.7 L341.4,594.8 A22.9,8.0 0 0 0 387.2,594.8 L387.2,551.7 Z" stroke-width="1.3" fill="#fff" />
<path d="M341.4,592.0 A22.9,8.0 0 0 0 387.2,592.0" stroke-width="1.6" fill="none" />
<path d="M341.4,594.8 A22.9,8.0 0 0 0 387.2,594.8" stroke-width="1.9" fill="none" />
<ellipse cx="364.3" cy="551.7" rx="22.6" ry="13.3" stroke-width="2.6" fill="#fff"/>
</g>
<path d="M377.0,509 L386.6,509 L383.1,528.6 L380.6,528.6 Z" stroke-width="0" fill="#111" stroke="none"/>
<circle cx="381.9" cy="531.2" r="1.6" stroke-width="0" fill="#111" stroke="none"/>
<text x="350.8" y="641.9" font-size="7.6" text-anchor="start" textLength="43.6" lengthAdjust="spacingAndGlyphs" fill="#333" stroke="none">max. 15 mm</text>
<text x="350.8" y="650.6" font-size="7.6" text-anchor="start" textLength="33.6" lengthAdjust="spacingAndGlyphs" fill="#333" stroke="none">max. 3/5&quot;</text>
<line x1="348.6" y1="643.9" x2="402.0" y2="643.9" stroke-width="1.0" />
<polygon points="405.6,643.9 400.1,642.6 400.1,645.2" fill="#111" stroke="none"/>
<polygon points="409.8,643.9 415.3,642.6 415.3,645.2" fill="#111" stroke="none"/>
<line x1="413.0" y1="643.9" x2="423.0" y2="643.9" stroke-width="0.8" />
<line x1="405.4" y1="599.0" x2="405.4" y2="647.0" stroke-width="0.8" />
<line x1="409.6" y1="599.0" x2="409.6" y2="647.0" stroke-width="0.8" />
<g>
<text x="403.0" y="499.9" font-size="10.8" text-anchor="start" textLength="32.8" lengthAdjust="spacingAndGlyphs" font-weight="bold" fill="#111" stroke="#111" stroke-width="0.9">GROHE</text>
<path d="M405,501.6 q3.6,-1.4 7.2,0 t7.2,0 t7.2,0 t7.2,0" stroke-width="1.3" fill="none" />
<path d="M408,503.5 q3,-1.3 6,0 t6,0 t6,0 t6,0" stroke-width="1.3" fill="none" />
<path d="M412,505.3 q2.6,-1.2 5.2,0 t5.2,0 t5.2,0" stroke-width="1.2" fill="none" />
<path d="M416.5,507 q1.8,-1 3.6,0 t3.6,0" stroke-width="1.1" fill="none" />
</g>
</g>
</g>
</svg>
</body></html>
